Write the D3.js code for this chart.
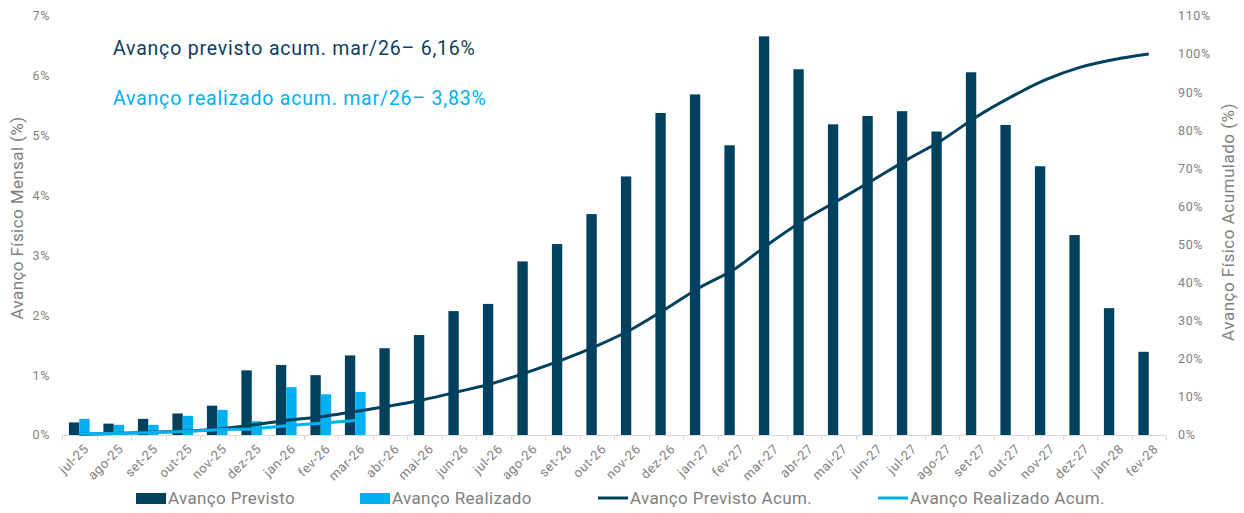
<!DOCTYPE html>
<html>
<head>
<meta charset="utf-8">
<script src="https://cdn.jsdelivr.net/npm/d3@7"></script>
<style>
  body { margin: 0; background: #fff; }
  text { font-family: Roboto, "Noto Sans", sans-serif; }
</style>
</head>
<body>
<div class="chartDiv"></div>
<script>
// data
var months = ["jul-25","ago-25","set-25","out-25","nov-25","dez-25",
  "jan-26","fev-26","mar-26","abr-26","mai-26","jun-26","jul-26","ago-26","set-26","out-26","nov-26","dez-26",
  "jan-27","fev-27","mar-27","abr-27","mai-27","jun-27","jul-27","ago-27","set-27","out-27","nov-27","dez-27",
  "jan-28","fev-28"];
var previsto = [0.21,0.19,0.27,0.36,0.49,1.08,1.17,1.00,1.33,1.45,1.67,2.07,2.19,2.90,3.19,3.69,4.32,5.38,
  5.69,4.84,6.66,6.11,5.19,5.33,5.41,5.07,6.06,5.18,4.49,3.34,2.12,1.39];
var realizado = [0.27,0.17,0.17,0.32,0.42,0.23,0.80,0.68,0.72];
var previstoAcum = [0.2,0.4,0.7,1.0,1.5,2.6,3.8,4.8,6.2,7.6,9.3,11.4,13.6,16.5,19.7,23.4,27.7,33.1,
  38.8,43.6,50.3,56.4,61.6,66.9,72.3,77.4,83.5,88.7,93.2,96.5,98.6,100.0];
var realizadoAcum = [0.3,0.4,0.6,0.9,1.4,1.6,2.4,3.1,3.8];
var leftTicks = [0,1,2,3,4,5,6,7];
var rightTicks = [0,10,20,30,40,50,60,70,80,90,100,110];

var dark = "#00415f", light = "#00b0f0", grey = "#7f7f7f";
var width = 1244, height = 513;
var margin = {top: 16, right: 78, bottom: 78, left: 62};

var svg = d3.select(".chartDiv").append("svg")
  .attr("width", width).attr("height", height);

var x = d3.scaleBand().domain(months).range([margin.left, width - margin.right]).padding(0);
var bw = x.bandwidth();
var x1 = d3.scaleBand().domain(["prev","real"]).range([bw * 0.2, bw * 0.8]).padding(0);
var yL = d3.scaleLinear().domain([0, 7]).range([height - margin.bottom, margin.top]);
var yR = d3.scaleLinear().domain([0, 110]).range([height - margin.bottom, margin.top]);

// bars
svg.append("g").selectAll("rect.prev").data(previsto).enter().append("rect")
  .attr("x", function(d, i){ return x(months[i]) + x1("prev"); })
  .attr("y", function(d){ return yL(d); })
  .attr("width", x1.bandwidth())
  .attr("height", function(d){ return yL(0) - yL(d); })
  .attr("fill", dark);
svg.append("g").selectAll("rect.real").data(realizado).enter().append("rect")
  .attr("x", function(d, i){ return x(months[i]) + x1("real"); })
  .attr("y", function(d){ return yL(d); })
  .attr("width", x1.bandwidth())
  .attr("height", function(d){ return yL(0) - yL(d); })
  .attr("fill", light);

// x axis
var xAxis = svg.append("g").attr("transform", "translate(0," + (yL(0) + 0.5) + ")");
xAxis.append("line").attr("x1", x.range()[0]).attr("x2", x.range()[1])
  .attr("stroke", "#d9d9d9").attr("stroke-width", 1);
xAxis.selectAll("line.tk").data(months.concat(["end"])).enter().append("line")
  .attr("x1", function(d, i){ return Math.round(x.range()[0] + i * bw) + 0.5; })
  .attr("x2", function(d, i){ return Math.round(x.range()[0] + i * bw) + 0.5; })
  .attr("y1", 0).attr("y2", 5).attr("stroke", "#d9d9d9");
xAxis.selectAll("text").data(months).enter().append("text")
  .attr("transform", function(d){ return "translate(" + (x(d) + bw / 2 + 7) + ",11) rotate(-45)"; })
  .attr("text-anchor", "end").attr("dy", "0.35em")
  .attr("font-size", 13).attr("letter-spacing", 0.6).attr("fill", grey).text(function(d){ return d; });

// left axis
svg.append("g").selectAll("text").data(leftTicks).enter().append("text")
  .attr("x", 50).attr("y", function(d){ return yL(d); }).attr("dy", "0.35em")
  .attr("text-anchor", "end").attr("font-size", 12.5).attr("letter-spacing", 0.6).attr("fill", grey)
  .text(function(d){ return d + "%"; });
svg.append("text").attr("transform", "translate(23,218) rotate(-90)")
  .attr("text-anchor", "middle").attr("font-size", 17).attr("letter-spacing", 0.4).attr("fill", grey)
  .text("Avanço Físico Mensal (%)");

// right axis
svg.append("g").selectAll("text").data(rightTicks).enter().append("text")
  .attr("x", 1178).attr("y", function(d){ return yR(d); }).attr("dy", "0.35em")
  .attr("text-anchor", "start").attr("font-size", 12.5).attr("letter-spacing", 0.6).attr("fill", grey)
  .text(function(d){ return d + "%"; });
svg.append("text").attr("transform", "translate(1234,222) rotate(-90)")
  .attr("text-anchor", "middle").attr("font-size", 17).attr("letter-spacing", 0.5).attr("fill", grey)
  .text("Avanço Físico Acumulado (%)");

// cumulative lines
var line = d3.line()
  .x(function(d, i){ return x(months[i]) + bw / 2; })
  .y(function(d){ return yR(d); })
  .curve(d3.curveMonotoneX);
svg.append("path").datum(previstoAcum).attr("d", line)
  .attr("fill", "none").attr("stroke", dark).attr("stroke-width", 3);
svg.append("path").datum(realizadoAcum).attr("d", line)
  .attr("fill", "none").attr("stroke", light).attr("stroke-width", 3);

// annotations
svg.append("text").attr("x", 113).attr("y", 55).attr("font-size", 19.5).attr("letter-spacing", 0.8).attr("fill", "#0c3e5e")
  .text("Avanço previsto acum. mar/26– 6,16%");
svg.append("text").attr("x", 113).attr("y", 105).attr("font-size", 19.5).attr("letter-spacing", 0.8).attr("fill", light)
  .text("Avanço realizado acum. mar/26– 3,83%");

// legend
var legend = [
  {label: "Avanço Previsto", color: dark, type: "bar", x: 136},
  {label: "Avanço Realizado", color: light, type: "bar", x: 360},
  {label: "Avanço Previsto Acum.", color: dark, type: "line", x: 598},
  {label: "Avanço Realizado Acum.", color: light, type: "line", x: 878}
];
var lg = svg.append("g").selectAll("g").data(legend).enter().append("g")
  .attr("transform", function(d){ return "translate(" + d.x + ",498)"; });
lg.filter(function(d){ return d.type === "bar"; }).append("rect")
  .attr("x", 0).attr("y", -5).attr("width", 30).attr("height", 11).attr("fill", function(d){ return d.color; });
lg.filter(function(d){ return d.type === "line"; }).append("line")
  .attr("x1", 0).attr("x2", 30).attr("y1", 0).attr("y2", 0)
  .attr("stroke", function(d){ return d.color; }).attr("stroke-width", 3);
lg.append("text").attr("x", 32).attr("dy", "0.35em").attr("font-size", 17).attr("letter-spacing", 0.35).attr("fill", grey)
  .text(function(d){ return d.label; });
</script>
</body>
</html>
